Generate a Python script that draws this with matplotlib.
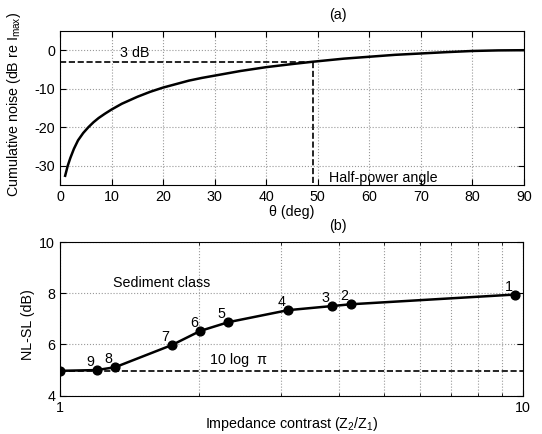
import numpy as np
import matplotlib.pyplot as plt
from matplotlib.ticker import FixedLocator, NullFormatter, LogLocator

# panel (a): cumulative noise vs angle
theta = [1, 1.5, 2, 2.7, 3.5, 4.5, 5.5, 6.5, 7.5, 8.7, 10, 12, 15, 17.5, 20, 22.5,
         25, 27.5, 30, 35, 40, 45, 49, 55, 60, 65, 70, 75, 80, 85, 90]
noise = [-32.6, -30.0, -28.0, -25.6, -23.4, -21.5, -20.0, -18.7, -17.6, -16.5, -15.4,
         -13.9, -12.1, -10.8, -9.7, -8.8, -7.9, -7.2, -6.6, -5.4, -4.4, -3.6, -3.0,
         -2.2, -1.7, -1.2, -0.85, -0.5, -0.2, -0.05, 0.0]
half_power_deg = 49
half_power_db = -3

# panel (b): NL-SL vs impedance contrast, one point per sediment class
classes = ["", "9", "8", "7", "6", "5", "4", "3", "2", "1"]
contrast = [1.0, 1.20, 1.315, 1.746, 2.01, 2.31, 3.11, 3.87, 4.25, 9.62]
nl_sl = [4.97, 5.0, 5.11, 5.98, 6.53, 6.87, 7.34, 7.50, 7.57, 7.95]
ten_log_pi = 10 * np.log10(np.pi)

plt.rcParams['font.family'] = ['Liberation Sans', 'DejaVu Sans']
plt.rcParams['font.size'] = 10.3
plt.rcParams['axes.unicode_minus'] = False
plt.rcParams['mathtext.fontset'] = 'custom'
plt.rcParams['mathtext.rm'] = 'Liberation Sans'

fig = plt.figure(figsize=(5.42, 4.34), dpi=100)
ax1 = fig.add_axes([0.1107, 0.5737, 0.856, 0.355])
ax2 = fig.add_axes([0.1107, 0.0883, 0.854, 0.354])

for ax in (ax1, ax2):
    ax.tick_params(direction='in', top=True, right=True, length=4, labelsize=10.3)
    ax.tick_params(which='minor', direction='in', top=True, right=True, length=2)
    for s in ax.spines.values():
        s.set_linewidth(0.8)

# (a)
ax1.plot(theta, noise, color='black', lw=1.8)
ax1.plot([0, half_power_deg], [half_power_db, half_power_db], 'k--', lw=1.2)
ax1.plot([half_power_deg, half_power_deg], [half_power_db, -35], 'k--', lw=1.2)
ax1.set_xlim(0, 90)
ax1.set_ylim(-35, 5)
ax1.set_xticks(np.arange(0, 91, 10))
ax1.set_yticks([-30, -20, -10, 0])
ax1.grid(True, linestyle=':', color='#999999', lw=0.8)
ax1.text(11.7, -0.8, "3 dB", va='center', ha='left')
ax1.text(52.2, -33.3, "Half-power angle", va='center', ha='left')
ax1.text(0.6, 1.104, "(a)", transform=ax1.transAxes, ha='center', va='center')
ax1.set_xlabel("θ (deg)", labelpad=1)
ax1.set_ylabel(r"Cumulative noise (dB re I$_{\rm max}$)")
ax1.yaxis.set_label_coords(-0.08, 0.525)

# (b)
ax2.set_xscale('log')
ax2.plot([1, 10], [ten_log_pi, ten_log_pi], 'k--', lw=1.2)
ax2.plot(contrast, nl_sl, color='black', lw=1.8, marker='o', ms=6.3)
for c, x, y in zip(classes, contrast, nl_sl):
    ax2.annotate(c, (x, y), xytext=(-4.7, 5.6), textcoords='offset points',
                 ha='center', va='center')
ax2.set_xlim(1, 10)
ax2.set_ylim(4, 10)
ax2.set_yticks([4, 6, 8, 10])
ax2.xaxis.set_major_locator(FixedLocator([1, 10]))
ax2.set_xticklabels(["1", "10"])
ax2.xaxis.set_minor_locator(LogLocator(base=10, subs=np.arange(2, 10)))
ax2.xaxis.set_minor_formatter(NullFormatter())
ax2.grid(True, which='both', linestyle=':', color='#999999', lw=0.8)
ax2.text(1.30, 8.39, "Sediment class", va='center', ha='left')
ax2.text(2.11, 5.39, "10 log  π", va='center', ha='left')
ax2.text(0.6, 1.102, "(b)", transform=ax2.transAxes, ha='center', va='center')
ax2.set_xlabel(r"Impedance contrast (Z$_2$/Z$_1$)")
ax2.xaxis.set_label_coords(0.5, -0.125)
ax2.set_ylabel("NL-SL (dB)")
ax2.yaxis.set_label_coords(-0.055, 0.46)

fig.savefig("out.png", dpi=100)
